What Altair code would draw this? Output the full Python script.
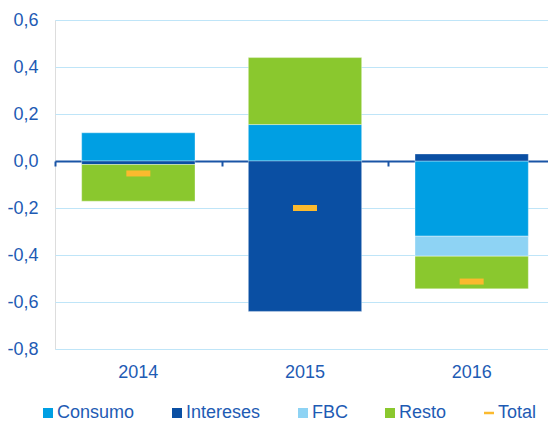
import altair as alt
import pandas as pd

years = ["2014", "2015", "2016"]
series = ["Consumo", "Intereses", "FBC", "Resto"]
consumo = [0.12, 0.155, -0.32]
intereses = [-0.015, -0.64, 0.03]
fbc = [0.0, 0.0, -0.085]
resto = [-0.156, 0.285, -0.139]
total = [-0.053, -0.2, -0.513]

legend_names = ["Consumo", "Intereses", "FBC", "Resto", "Total"]
colors = ["#009FE3", "#0A4FA3", "#8ED3F4", "#8AC82E", "#FBBA2E"]
y_ticks = [-0.8, -0.6, -0.4, -0.2, 0.0, 0.2, 0.4, 0.6]

rows = []
for si, (name, vals) in enumerate(zip(series, [consumo, intereses, fbc, resto])):
    for yr, v in zip(years, vals):
        if v != 0:
            rows.append({"year": yr, "serie": name, "value": v, "ord": si})
bars_df = pd.DataFrame(rows)
tot_df = pd.DataFrame({"year": years, "value": total, "serie": ["Total"] * 3})

TXT = "#1E5BB4"
FONT = "Liberation Sans"
W, H = 493, 329
XR = 500
ymin, ymax = -0.8, 0.6
zero_px = (ymax - 0) / (ymax - ymin) * H

color_scale = alt.Scale(domain=legend_names, range=colors)
shape_scale = alt.Scale(domain=legend_names,
                        range=["square", "square", "square", "square", "M-1,-0.25H1V0.25H-1Z"])
x_scale = alt.Scale(domain=years, paddingInner=0, paddingOuter=0, range=[0, XR])
y_scale = alt.Scale(domain=[ymin, ymax], nice=False, zero=False)

label_expr = "(datum.value < -0.0001 ? '-' : '') + replace(format(abs(datum.value), '.1f'), '.', ',')"

y_axis = alt.Axis(title=None, values=y_ticks, domain=False, ticks=False,
                  grid=True, gridColor="#BFE5F8", gridWidth=1,
                  labelFontSize=18, labelColor=TXT, labelFont=FONT,
                  labelPadding=17, labelExpr=label_expr)

bars = alt.Chart(bars_df).mark_bar(width={"band": 0.68}, stroke="#FFFFFF",
                                   strokeWidth=1, strokeOpacity=0.35).encode(
    x=alt.X("year:N", scale=x_scale, sort=years,
            axis=alt.Axis(orient="bottom", title=None, domain=False, ticks=False, grid=False,
                          labelAngle=0, labelFontSize=18, labelColor=TXT, labelFont=FONT,
                          labelPadding=14)),
    y=alt.Y("value:Q", scale=y_scale, stack="zero", axis=y_axis),
    color=alt.Color("serie:N", scale=color_scale,
                    legend=alt.Legend(orient="none", legendX=-16, legendY=384,
                                      direction="horizontal", title=None,
                                      labelFontSize=18, labelColor=TXT, labelFont=FONT,
                                      symbolSize=100, labelOffset=0, columnPadding=33,
                                      padding=0, symbolStrokeWidth=0)),
    order=alt.Order("ord:Q"),
)

ticks = alt.Chart(tot_df).mark_point(filled=True, size=576, opacity=1).encode(
    x=alt.X("year:N", scale=x_scale, sort=years,
            axis=alt.Axis(orient="bottom", offset=-(H - zero_px), title=None, labels=False,
                          domain=True, domainColor="#1A55A6", domainWidth=2,
                          ticks=True, tickBand="extent", tickSize=5, tickWidth=2,
                          tickColor="#1A55A6", grid=False)),
    y=alt.Y("value:Q", scale=y_scale, axis=y_axis),
    color=alt.Color("serie:N", scale=color_scale),
    shape=alt.Shape("serie:N", scale=shape_scale),
)

chart = alt.layer(bars, ticks).resolve_axis(x="independent").properties(
    width=W, height=H,
    autosize=alt.AutoSizeParams(type="none"),
    padding={"left": 47, "top": 12, "right": 0, "bottom": 73},
).configure_view(strokeWidth=0).configure(background="white")

chart.save("out.html", embed_options={"renderer": "svg", "actions": False})
